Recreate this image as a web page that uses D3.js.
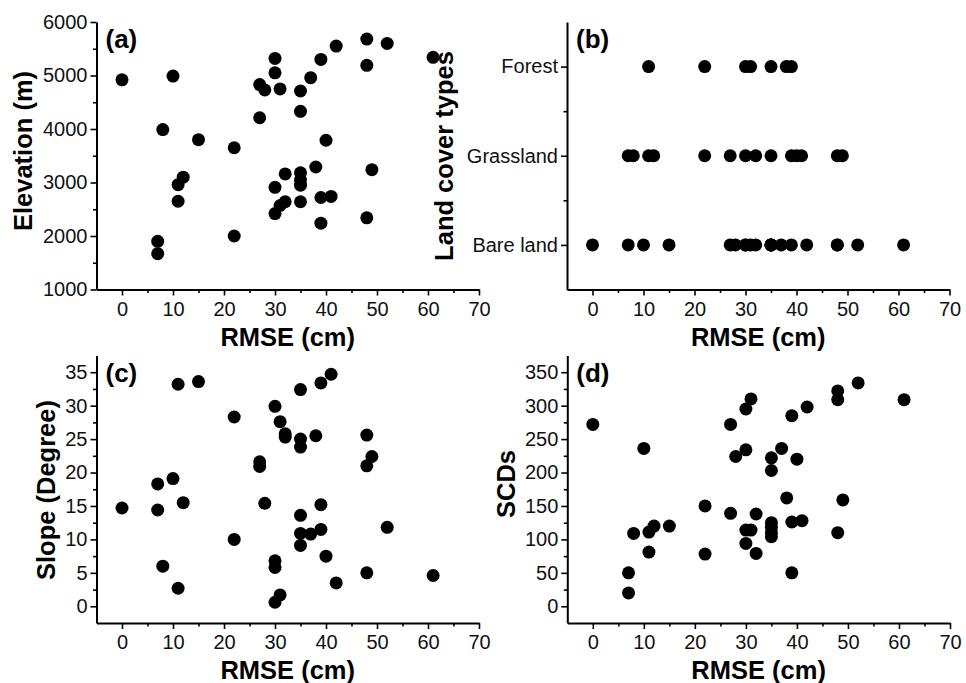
<!DOCTYPE html>
<html>
<head>
<meta charset="utf-8">
<script src="https://cdn.jsdelivr.net/npm/d3@7"></script>
<style>
  html, body { margin: 0; padding: 0; background: #fff; }
  svg { display: block; font-family: "Liberation Sans", Arial, sans-serif; }
</style>
</head>
<body>
<svg id="chart" width="966" height="683"></svg>
<script>
// ---------- DATA ----------
// RMSE (cm) for each station (shared x for panels a, c, d)
const rmse = [0,7,7,8,10,11,11,12,15,22,22,27,27,28,30,30,30,30,31,31,32,32,35,35,35,35,35,35,37,38,39,39,39,40,41,42,48,48,48,49,52,61];
// Panel (a) Elevation (m)
const elevation = [4920,1900,1670,3990,4990,2960,2650,3100,3800,3650,2000,4830,4210,4730,5320,5050,2910,2420,4750,2570,3160,2640,4710,4330,3180,3050,2950,2640,4960,3290,5300,2720,2240,3790,2740,5550,5680,5190,2340,3240,5600,5340];
// Panel (c) Slope (Degree)
const slope = [14.7,18.3,14.4,6.0,19.1,33.2,2.7,15.5,33.6,28.3,10.0,21.6,20.9,15.4,29.9,6.8,5.8,0.6,27.6,1.7,25.8,25.3,32.4,25.0,23.8,13.6,10.9,9.1,10.8,25.5,33.4,15.2,11.5,7.5,34.7,3.5,25.6,21.0,5.0,22.4,11.8,4.6];
// Panel (d) SCDs
const scds = [272,50,20,109,236,111,81,120,120,150,78,272,139,224,295,234,114,94,310,114,138,79,222,203,125,118,110,104,236,162,285,126,50,220,128,298,322,309,110,159,334,309];
// Panel (b) Land cover types
const landCategories = ["Bare land", "Grassland", "Forest"];
const bareRMSE = [0,7,10,15,27,28,30,30,31,32,35,35,35,35,37,39,42,48,48,52,61];
const grassRMSE = [7,8,11,12,22,27,30,32,35,39,40,41,48,49];
const forestRMSE = [11,22,30,31,35,38,39];

// Tick labels
const xTicks = [0,10,20,30,40,50,60,70];
const xMinor = [5,15,25,35,45,55,65];
const elevTicks = [1000,2000,3000,4000,5000,6000];
const elevMinor = [1500,2500,3500,4500,5500];
const slopeTicks = [0,5,10,15,20,25,30,35];
const slopeMinor = [2.5,7.5,12.5,17.5,22.5,27.5,32.5];
const scdTicks = [0,50,100,150,200,250,300,350];
const scdMinor = [25,75,125,175,225,275,325];
const landMinor = [1.5, 2.5];

// ---------- DRAW ----------
const svg = d3.select("#chart");
const TICK_FONT = 20, TITLE_FONT = 25.5, PANEL_FONT = 26;

function panel(o) {
  const x = d3.scaleLinear().domain([-5, 70]).range([o.left, o.right]);
  const y = d3.scaleLinear().domain(o.yDomain).range([o.bottom, o.top]);
  const g = svg.append("g");

  // minor ticks
  g.append("g").attr("transform", `translate(0,${o.bottom})`)
    .call(d3.axisBottom(x).tickValues(xMinor).tickFormat("").tickSize(3.5).tickSizeOuter(0))
    .call(s => s.select(".domain").remove());
  g.append("g").attr("transform", `translate(${o.left},0)`)
    .call(d3.axisLeft(y).tickValues(o.yMinor).tickFormat("").tickSize(3.5).tickSizeOuter(0))
    .call(s => s.select(".domain").remove());

  // major axes
  const xa = g.append("g").attr("transform", `translate(0,${o.bottom})`)
    .call(d3.axisBottom(x).tickValues(xTicks).tickFormat(d3.format("d")).tickSize(6).tickSizeOuter(0).tickPadding(6));
  const ya = g.append("g").attr("transform", `translate(${o.left},0)`)
    .call(d3.axisLeft(y).tickValues(o.yTicks).tickFormat(o.yFormat || d3.format("d")).tickSize(6).tickSizeOuter(0).tickPadding(3));
  [xa, ya].forEach(a => {
    a.selectAll("text").attr("font-size", TICK_FONT).attr("fill", "#111").attr("font-family", "Liberation Sans, Arial, sans-serif");
  });
  g.selectAll(".domain").attr("stroke", "#000").attr("stroke-width", 2);
  g.selectAll(".tick line").attr("stroke", "#000").attr("stroke-width", 1.6);

  // points
  g.append("g").selectAll("circle").data(o.points).join("circle")
    .attr("cx", d => x(d[0])).attr("cy", d => y(d[1])).attr("r", 6.5).attr("fill", "#000");

  // titles
  g.append("text").attr("x", (o.left + o.right) / 2).attr("y", o.bottom + 56)
    .attr("text-anchor", "middle").attr("font-weight", "bold").attr("font-size", TITLE_FONT)
    .text("RMSE (cm)");
  g.append("text").attr("transform", `translate(${o.yTitleX},${o.yTitleY}) rotate(-90)`)
    .attr("text-anchor", "middle").attr("font-weight", "bold").attr("font-size", TITLE_FONT)
    .text(o.yTitle);
  g.append("text").attr("x", o.left + 9).attr("y", o.top + 26)
    .attr("font-weight", "bold").attr("font-size", PANEL_FONT).text(o.label);
}

// (a)
panel({
  left: 96.5, right: 479, top: 22, bottom: 289.5,
  yDomain: [1000, 6000], yTicks: elevTicks, yMinor: elevMinor,
  points: rmse.map((r, i) => [r, elevation[i]]),
  yTitle: "Elevation (m)", yTitleX: 32, yTitleY: 151, label: "(a)"
});

// (b)
const landPoints = [].concat(
  bareRMSE.map(r => [r, 1]),
  grassRMSE.map(r => [r, 2]),
  forestRMSE.map(r => [r, 3])
);
panel({
  left: 567, right: 949.5, top: 22, bottom: 289.5,
  yDomain: [0.5, 3.5], yTicks: [1, 2, 3], yMinor: landMinor,
  yFormat: d => landCategories[d - 1],
  points: landPoints,
  yTitle: "Land cover types", yTitleX: 453, yTitleY: 156, label: "(b)"
});

// (c)
panel({
  left: 96.5, right: 479, top: 355.5, bottom: 623,
  yDomain: [-2.5, 37.5], yTicks: slopeTicks, yMinor: slopeMinor,
  points: rmse.map((r, i) => [r, slope[i]]),
  yTitle: "Slope (Degree)", yTitleX: 55, yTitleY: 490, label: "(c)"
});

// (d)
panel({
  left: 567.3, right: 950, top: 355.5, bottom: 623,
  yDomain: [-25, 375], yTicks: scdTicks, yMinor: scdMinor,
  points: rmse.map((r, i) => [r, scds[i]]),
  yTitle: "SCDs", yTitleX: 515, yTitleY: 484, label: "(d)"
});
</script>
</body>
</html>
